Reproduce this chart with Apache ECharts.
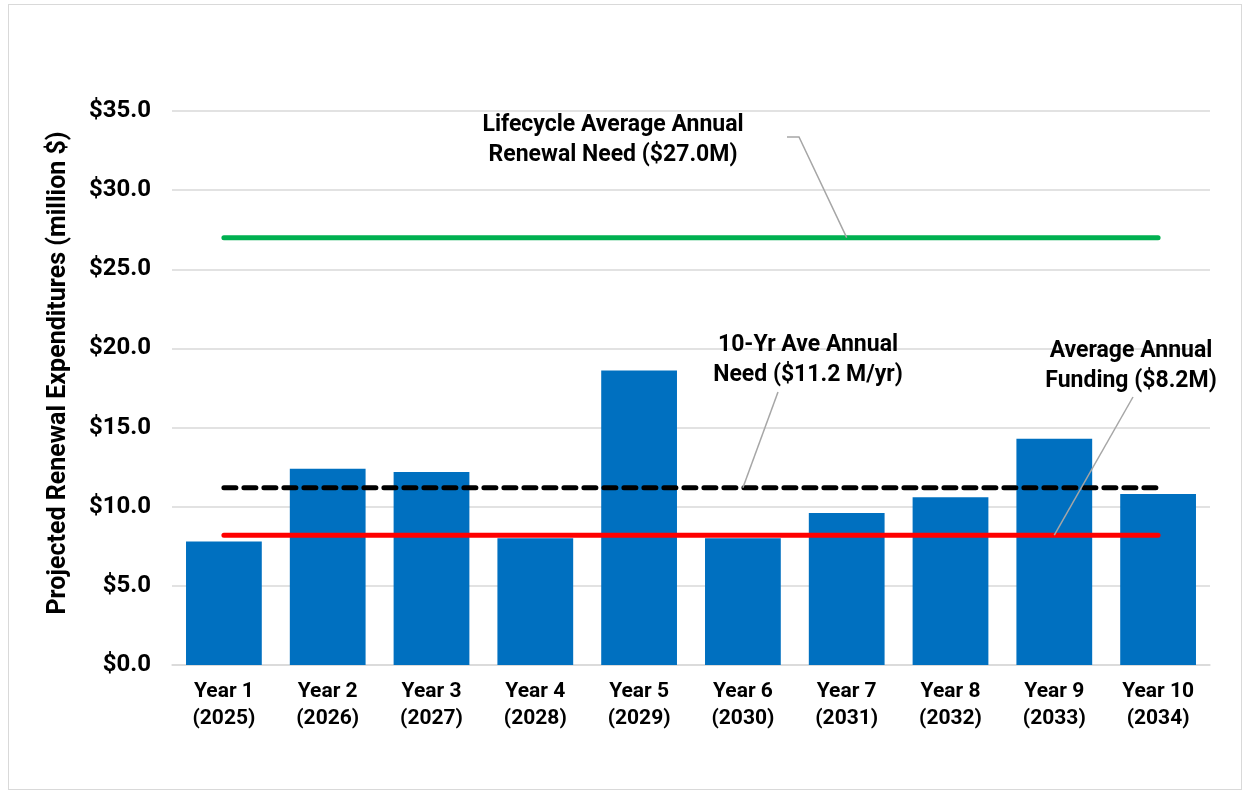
<!DOCTYPE html>
<html>
<head>
<meta charset="utf-8">
<script src="https://cdn.jsdelivr.net/npm/echarts@6/dist/echarts.min.js"></script>
<style>
  html, body { margin: 0; padding: 0; background: #fff; }
  #frame { position: absolute; left: 8px; top: 4px; width: 1234px; height: 786px; border: 1px solid #d9d9d9; box-sizing: border-box; }
  #chart { position: absolute; left: 0; top: 0; width: 1251px; height: 799px; }
</style>
</head>
<body>
<div id="frame"></div>
<div id="chart"></div>
<script>
// Categories and values (million $)
const categories = ['Year 1\n(2025)', 'Year 2\n(2026)', 'Year 3\n(2027)', 'Year 4\n(2028)', 'Year 5\n(2029)',
                    'Year 6\n(2030)', 'Year 7\n(2031)', 'Year 8\n(2032)', 'Year 9\n(2033)', 'Year 10\n(2034)'];
const expenditures = [7.8, 12.4, 12.2, 8.0, 18.6, 8.0, 9.6, 10.6, 14.3, 10.8];
const lifecycleNeed = 27.0;
const tenYearNeed = 11.2;
const annualFunding = 8.2;
const yTicks = { min: 0, max: 35, interval: 5 };

const FONT = 'Roboto';
const flat = v => categories.map(() => v);

const chart = echarts.init(document.getElementById('chart'));

const option = {
  backgroundColor: 'transparent',
  animation: false,
  grid: { left: 172, right: 41, top: 111, bottom: 134 },
  xAxis: {
    type: 'category',
    data: categories,
    axisTick: { show: false },
    axisLine: { lineStyle: { color: '#d9d9d9', width: 1.5 } },
    axisLabel: {
      color: '#000', fontFamily: FONT, fontWeight: 'bold', fontSize: 21,
      lineHeight: 27, margin: 13
    }
  },
  yAxis: {
    type: 'value',
    min: yTicks.min, max: yTicks.max, interval: yTicks.interval,
    name: 'Projected Renewal Expenditures (million $)',
    nameLocation: 'middle',
    nameRotate: 90,
    nameGap: 101,
    nameTextStyle: {
      color: '#000', fontFamily: FONT, fontWeight: 'bold', fontSize: 25,
      padding: [0, 0, 0, 30]
    },
    axisLine: { show: false },
    axisTick: { show: false },
    splitLine: { lineStyle: { color: '#d9d9d9', width: 1.5 } },
    axisLabel: {
      color: '#000', fontFamily: FONT, fontWeight: 'bold', fontSize: 24, margin: 21,
      formatter: v => '$' + v.toFixed(1)
    }
  },
  series: [
    {
      name: 'Projected Renewal Expenditures',
      type: 'bar',
      data: expenditures,
      barCategoryGap: '27%',
      itemStyle: { color: '#0070C0' },
      z: 1
    },
    {
      name: 'Lifecycle Average Annual Renewal Need',
      type: 'line',
      data: flat(lifecycleNeed),
      symbol: 'none',
      lineStyle: { color: '#00B050', width: 5, cap: 'round' },
      z: 3
    },
    {
      name: '10-Yr Ave Annual Need',
      type: 'line',
      data: flat(tenYearNeed),
      symbol: 'none',
      lineStyle: { color: '#000', width: 5, type: [12, 8], cap: 'round' },
      z: 3
    },
    {
      name: 'Average Annual Funding',
      type: 'line',
      data: flat(annualFunding),
      symbol: 'none',
      lineStyle: { color: '#FF0000', width: 5, cap: 'round' },
      z: 3
    }
  ]
};

chart.setOption(option);

// Callout labels with leader lines pointing at the reference lines
const px = (catIdx, val) => chart.convertToPixel({ xAxisIndex: 0, yAxisIndex: 0 }, [catIdx, val]);
const leader = pts => ({
  type: 'polyline', z: 10, silent: true,
  shape: { points: pts },
  style: { stroke: '#a6a6a6', lineWidth: 1.5, fill: null }
});
const callout = (x, y, text) => ({
  type: 'text', z: 10, silent: true, x: x, y: y,
  style: {
    text: text, fill: '#000', align: 'center', verticalAlign: 'top',
    font: 'bold 23px ' + FONT, lineHeight: 30
  }
});

const pLife = px(6, lifecycleNeed);
const pTen = px(5, tenYearNeed);
const pFund = px(8, annualFunding);

chart.setOption({
  graphic: [
    callout(613, 110, 'Lifecycle Average Annual\nRenewal Need ($27.0M)'),
    leader([[787, 137], [799, 137], pLife]),
    callout(808, 330, '10-Yr Ave Annual\nNeed ($11.2 M/yr)'),
    leader([[778, 392], pTen]),
    callout(1131, 336, 'Average Annual\nFunding ($8.2M)'),
    leader([[1133, 397], pFund])
  ]
});
</script>
</body>
</html>
